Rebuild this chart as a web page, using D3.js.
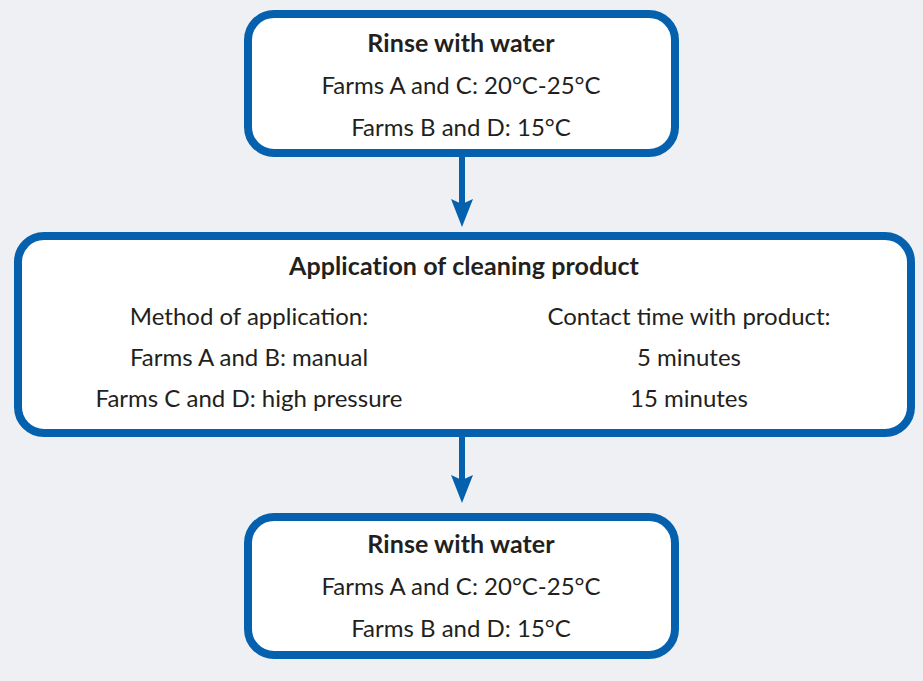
<!DOCTYPE html>
<html>
<head>
<meta charset="utf-8">
<script src="https://cdn.jsdelivr.net/npm/d3@7.9.0/dist/d3.min.js"></script>
<style>
  body { margin: 0; background: #eef0f3; }
  svg { display: block; }
  text { font-family: Lato, "Open Sans", sans-serif; fill: #231f20; }
</style>
</head>
<body>
<svg id="chart" width="923" height="681"></svg>
<script>
// step content
const titles = ["Rinse with water", "Application of cleaning product", "Rinse with water"];
const rinseLines = ["Farms A and C: 20°C-25°C", "Farms B and D: 15°C"];
const methodLines = ["Method of application:", "Farms A and B: manual", "Farms C and D: high pressure"];
const contactLines = ["Contact time with product:", "5 minutes", "15 minutes"];

const blue = "#0560ae";
const svg = d3.select("#chart");

// boxes: x0, y0, x1, y1 (stroke centre)
const boxes = [
  { x0: 248, y0: 14, x1: 675, y1: 153 },
  { x0: 18, y0: 236, x1: 911, y1: 433 },
  { x0: 248, y0: 517, x1: 675, y1: 655 },
];

svg.selectAll("rect.box")
  .data(boxes)
  .join("rect")
  .attr("class", "box")
  .attr("x", d => d.x0)
  .attr("y", d => d.y0)
  .attr("width", d => d.x1 - d.x0)
  .attr("height", d => d.y1 - d.y0)
  .attr("rx", 26)
  .attr("fill", "#fff")
  .attr("stroke", blue)
  .attr("stroke-width", 8);

// arrows between boxes
const cx = 462;
[[157, 227], [437, 503]].forEach(([y0, y1]) => {
  svg.append("line")
    .attr("x1", cx).attr("x2", cx)
    .attr("y1", y0).attr("y2", y1 - 20)
    .attr("stroke", blue).attr("stroke-width", 6);
  svg.append("path")
    .attr("d", `M${cx},${y1} L${cx - 11},${y1 - 28} L${cx},${y1 - 23} L${cx + 11},${y1 - 28} Z`)
    .attr("fill", blue);
});

function lines(arr, x, y0, step) {
  svg.append("g").selectAll("text")
    .data(arr)
    .join("text")
    .attr("x", x)
    .attr("y", (d, i) => y0 + i * step)
    .attr("text-anchor", "middle")
    .attr("font-size", 24)
    .text(d => d);
}

function title(t, x, y) {
  svg.append("text")
    .attr("x", x).attr("y", y)
    .attr("text-anchor", "middle")
    .attr("font-size", 25)
    .attr("font-weight", "bold")
    .attr("letter-spacing", 0.1)
    .text(t);
}

title(titles[0], 461, 52);
lines(rinseLines, 461, 94, 42);

title(titles[1], 464, 275);
lines(methodLines, 249, 325, 41);
lines(contactLines, 689, 325, 41);

title(titles[2], 461, 553);
lines(rinseLines, 461, 595, 42);
</script>
</body>
</html>
